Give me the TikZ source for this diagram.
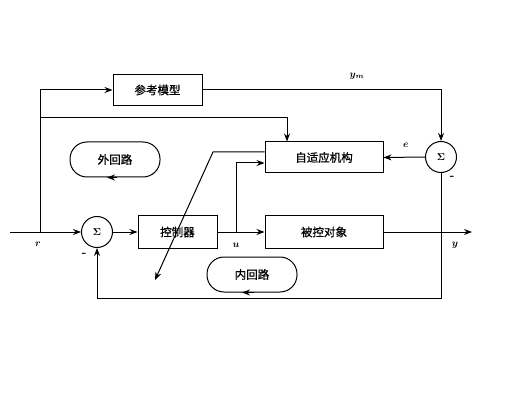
\documentclass[tikz,border=0pt]{standalone}
\usepackage{fontspec}
\newfontfamily\cjk[FakeBold=0.8]{Noto Sans CJK SC}
\usetikzlibrary{arrows,arrows.meta,positioning}
\tikzset{
    blk/.style={draw, line width=1pt, inner sep=0pt, font=\cjk\fontsize{11.5}{13}\selectfont},
    sumc/.style={circle, draw, line width=1pt, inner sep=0pt, minimum size=31pt, font=\boldmath\normalsize},
    loopbox/.style={draw, line width=1pt, rounded corners=17pt, minimum width=90pt, minimum height=35pt, font=\cjk\fontsize{11.5}{13}\selectfont},
    sig/.style={line width=1pt, -{Stealth[length=8pt,width=6pt]}},
    lbl/.style={font=\boldmath\normalsize},
    neg/.style={font=\bfseries\large}
}

\begin{document}
\begin{tikzpicture}[x=1pt,y=-1pt]
\useasboundingbox (0,0) rectangle (518,419);
\node[blk,minimum width=89pt,minimum height=31pt] (model) at (157.5,90) {参考模型};
\node[blk,minimum width=118pt,minimum height=31pt] (adapt) at (324,157.5) {自适应机构};
\node[blk,minimum width=79pt,minimum height=33pt] (ctrl) at (177.5,232) {控制器};
\node[blk,minimum width=118pt,minimum height=33pt] (plant) at (324,232) {被控对象};
\node[sumc] (sumA) at (97,232) {$\Sigma$};
\node[sumc] (sumB) at (441,157) {$\Sigma$};
\node[loopbox] (outer) at (115,159.5) {外回路};
\node[loopbox] (inner) at (252,274.5) {内回路};
\draw[sig] ([xshift=2pt]outer.south) -- ([xshift=-8pt]outer.south);
\draw[sig] ([xshift=2pt]inner.south) -- ([xshift=-10pt]inner.south);
% reference input and taps
\coordinate (in) at (10,232);
\coordinate (rtap) at (40,232);
\coordinate (mtap) at (40,118);
\coordinate (utap) at (236,232);
\coordinate (bend) at (213,152);
\coordinate (tune) at (155,280);
\coordinate (fb) at (441,298);
\coordinate (out) at (472,232);
\draw[sig] (in) -- (sumA.west);
\draw[sig] (rtap) |- (model.west);
\draw[sig] (mtap) -| ([xshift=-37pt]adapt.north);
\draw[sig] (model.east) -| (sumB.north);
\draw[sig] (sumB.west) -- (adapt.east);
\draw[sig] (sumA.east) -- (ctrl.west);
\draw[sig] (ctrl.east) -- (plant.west);
\draw[sig] (utap) |- ([yshift=-5.5pt]adapt.west);
\draw[sig] ([yshift=5.5pt]adapt.west) -- (bend) -- (tune);
\draw[sig] (plant.east) -- (out);
\draw[sig] (sumB.south) -- (fb) -| (sumA.south);
% labels
\node[lbl] at (357,76) {$y_m$};
\node[lbl] at (406,145) {$e$};
\node[lbl] at (38,244) {$r$};
\node[lbl] at (236,245) {$u$};
\node[lbl] at (455,245) {$y$};
\node[neg] at (84,255) {-};
\node[neg] at (452,178) {-};
\end{tikzpicture}
\end{document}
